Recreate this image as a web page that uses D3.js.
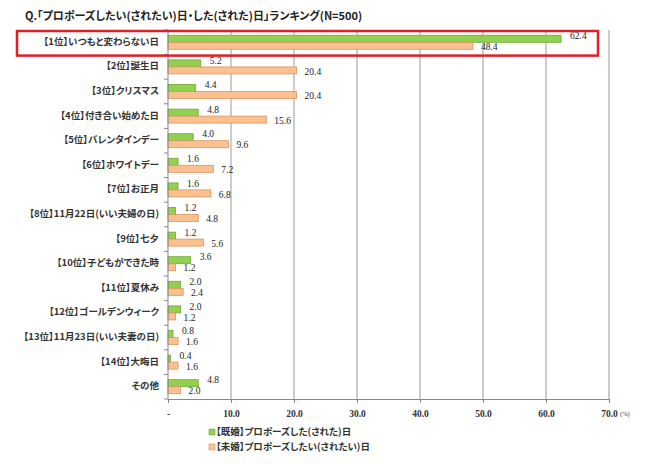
<!DOCTYPE html>
<html>
<head>
<meta charset="utf-8">
<script src="https://cdnjs.cloudflare.com/ajax/libs/d3/7.8.5/d3.min.js"></script>
<style>
  body { margin: 0; background: #fff; }
  svg { display: block; }
  .jp { font-feature-settings: "palt"; }
</style>
</head>
<body>
<div id="chart"></div>
<script>
// chart data
var categories = ["【1位】いつもと変わらない日", "【2位】誕生日", "【3位】クリスマス", "【4位】付き合い始めた日",
  "【5位】バレンタインデー", "【6位】ホワイトデー", "【7位】お正月", "【8位】11月22日(いい夫婦の日)",
  "【9位】七夕", "【10位】子どもができた時", "【11位】夏休み", "【12位】ゴールデンウィーク",
  "【13位】11月23日(いい夫妻の日)", "【14位】大晦日", "その他"];
var married = [62.4, 5.2, 4.4, 4.8, 4.0, 1.6, 1.6, 1.2, 1.2, 3.6, 2.0, 2.0, 0.8, 0.4, 4.8];
var unmarried = [48.4, 20.4, 20.4, 15.6, 9.6, 7.2, 6.8, 4.8, 5.6, 1.2, 2.4, 1.2, 1.6, 1.6, 2.0];
var tickValues = [0, 10, 20, 30, 40, 50, 60, 70];
var tickLabels = ["-", "10.0", "20.0", "30.0", "40.0", "50.0", "60.0", "70.0"];
var seriesNames = ["【既婚】プロポーズした(された)日", "【未婚】プロポーズしたい(されたい)日"];
var title = "Q.「プロポーズしたい(されたい)日・した(された)日」ランキング(N=500)";

var W = 650, H = 464;
var plotLeft = 168, plotRight = 609, plotTop = 30, plotBottom = 399;
var jp = "'Noto Sans CJK JP', sans-serif";
var serif = "'Liberation Serif', 'DejaVu Serif', serif";

var green = "#92d050", greenStroke = "#6fa83a";
var orange = "#fac090", orangeStroke = "#d99560";

var svg = d3.select("#chart").append("svg")
  .attr("width", W).attr("height", H);
svg.append("rect").attr("width", W).attr("height", H).attr("fill", "#fff");

var x = d3.scaleLinear().domain([0, 70]).range([plotLeft, plotRight]);
var y = d3.scaleBand().domain(categories).range([plotTop, plotBottom])
  .paddingInner(0.43).paddingOuter(0.215);
var step = y.step();
var barH = y.bandwidth() / 2;

// title
svg.append("text")
  .attr("class", "jp")
  .attr("x", 25).attr("y", 17)
  .attr("dominant-baseline", "middle")
  .style("font-family", jp).style("font-size", "11px").style("font-weight", "bold")
  .style("fill", "#222")
  .text(title);

// vertical gridlines
svg.selectAll(".grid")
  .data(tickValues.slice(1))
  .enter().append("line")
  .attr("x1", function (d) { return x(d); })
  .attr("x2", function (d) { return x(d); })
  .attr("y1", plotTop).attr("y2", plotBottom)
  .style("stroke", "#999").style("stroke-width", 1);

// bars
var rows = svg.selectAll(".row")
  .data(categories)
  .enter().append("g")
  .attr("transform", function (d) { return "translate(0," + y(d) + ")"; });

rows.append("rect")
  .attr("x", x(0))
  .attr("y", 0)
  .attr("width", function (d, i) { return x(married[i]) - x(0); })
  .attr("height", barH)
  .style("fill", green).style("stroke", greenStroke).style("stroke-width", 0.8);

rows.append("rect")
  .attr("x", x(0))
  .attr("y", barH)
  .attr("width", function (d, i) { return x(unmarried[i]) - x(0); })
  .attr("height", barH)
  .style("fill", orange).style("stroke", orangeStroke).style("stroke-width", 0.8);

// value labels
rows.append("text")
  .attr("x", function (d, i) { return x(married[i]) + 9; })
  .attr("y", barH / 2 - 2)
  .attr("dominant-baseline", "middle")
  .style("font-family", serif).style("font-size", "9.5px").style("fill", "#222")
  .text(function (d, i) { return married[i].toFixed(1); });

rows.append("text")
  .attr("x", function (d, i) { return x(unmarried[i]) + 8; })
  .attr("y", barH * 1.5 + 2)
  .attr("dominant-baseline", "middle")
  .style("font-family", serif).style("font-size", "9.5px").style("fill", "#222")
  .text(function (d, i) { return unmarried[i].toFixed(1); });

// category labels
rows.append("text")
  .attr("class", "jp")
  .attr("x", 159)
  .attr("y", barH)
  .attr("text-anchor", "end")
  .attr("dominant-baseline", "middle")
  .style("font-family", jp).style("font-size", "9.5px").style("font-weight", "bold")
  .style("fill", "#333")
  .text(function (d) { return d; });

// y axis line and ticks at band edges
svg.append("line")
  .attr("x1", x(0)).attr("x2", x(0)).attr("y1", plotTop).attr("y2", plotBottom)
  .style("stroke", "#888");
svg.selectAll(".ytick")
  .data(d3.range(categories.length + 1))
  .enter().append("line")
  .attr("x1", x(0) - 4).attr("x2", x(0))
  .attr("y1", function (i) { return plotTop + i * step; })
  .attr("y2", function (i) { return plotTop + i * step; })
  .style("stroke", "#888");

// x axis
var xAxis = d3.axisBottom(x)
  .tickValues(tickValues)
  .tickSize(4)
  .tickFormat(function (d, i) { return tickLabels[i]; });
var gx = svg.append("g").attr("transform", "translate(0," + plotBottom + ")").call(xAxis);
gx.select(".domain").style("stroke", "#888");
gx.selectAll(".tick line").style("stroke", "#888");
gx.selectAll(".tick text")
  .attr("y", 15)
  .attr("dy", "0.32em")
  .style("font-family", serif).style("font-size", "9.5px").style("font-weight", "bold")
  .style("fill", "#333");

svg.append("text")
  .attr("x", 620).attr("y", 415)
  .attr("dominant-baseline", "middle")
  .style("font-family", serif).style("font-size", "6.5px").style("fill", "#333")
  .text("(%)");

// highlight box around the top rank
svg.append("rect")
  .attr("x", 17).attr("y", plotTop + 1)
  .attr("width", 581).attr("height", step)
  .style("fill", "none").style("stroke", "#e01e25").style("stroke-width", 2.5);

// legend
var leg = svg.selectAll(".legend")
  .data(seriesNames)
  .enter().append("g")
  .attr("transform", function (d, i) { return "translate(209," + (432 + i * 15) + ")"; });
leg.append("rect")
  .attr("x", 0).attr("y", -3).attr("width", 6).attr("height", 6)
  .style("fill", function (d, i) { return i === 0 ? green : orange; })
  .style("stroke", function (d, i) { return i === 0 ? greenStroke : orangeStroke; })
  .style("stroke-width", 0.6);
leg.append("text")
  .attr("class", "jp")
  .attr("x", 7).attr("y", 0)
  .attr("dominant-baseline", "middle")
  .style("font-family", jp).style("font-size", "9.5px").style("font-weight", "bold")
  .style("fill", "#333")
  .text(function (d) { return d; });
</script>
</body>
</html>
